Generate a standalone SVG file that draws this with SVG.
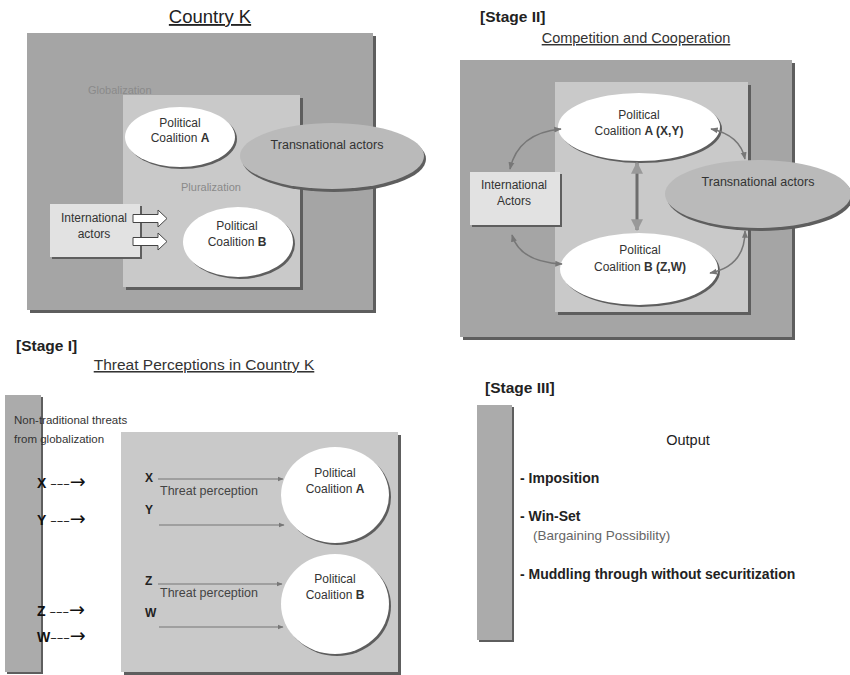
<svg xmlns="http://www.w3.org/2000/svg" width="850" height="675" viewBox="0 0 850 675">
<defs>
<style>
text{font-family:"Liberation Sans",Arial,sans-serif;fill:#333}
.t12{font-size:12px}
.c{text-anchor:middle}
.faint{fill:#8a8a8a;font-size:11px}
.stage{font-size:15.5px;font-weight:bold;fill:#222}
.ttl{font-size:14px;fill:#333;text-decoration:underline}
.outer{fill:#a5a5a5}
.inner{fill:#c9c9c9}
.shadow{fill:#5e5e5e}
.light{fill:#e2e2e2}
.white{fill:#fff}
.trans{fill:#bababa}
.bar{fill:#ababab}
.conn{fill:none;stroke:#777;stroke-width:1.5}
.thin{fill:none;stroke:#777;stroke-width:1.2}
.bold{font-weight:bold}
.out{font-size:14px;font-weight:bold;fill:#222}
.xarr{font-size:14px;fill:#111}
.ar{font-family:"DejaVu Sans",sans-serif;font-size:13px}
.ah{font-family:"DejaVu Sans",sans-serif;font-size:19px}
</style>
<marker id="ah" viewBox="0 0 10 10" refX="9" refY="5" markerWidth="5" markerHeight="5" orient="auto-start-reverse">
<path d="M0,1 L10,5 L0,9 Z" fill="#777"/>
</marker>
<marker id="ah2" viewBox="0 0 10 10" refX="9" refY="5" markerWidth="4" markerHeight="4" orient="auto-start-reverse">
<path d="M0,0 L10,5 L0,10 Z" fill="#999"/>
</marker>
</defs>

<!-- Country K -->
<g id="countryK">
<text x="210" y="23" class="c" style="font-size:18.5px;text-decoration:underline;fill:#222">Country K</text>
<rect x="30" y="36" width="346" height="277" class="shadow"/>
<rect x="27" y="33" width="346" height="277" class="outer"/>
<text x="88" y="94" class="faint">Globalization</text>
<rect x="126" y="98" width="177" height="192" class="shadow"/>
<rect x="123" y="95" width="177" height="192" class="inner"/>
<text x="181" y="191" class="faint">Pluralization</text>
</g>
<g id="k-coalitionA">
<ellipse cx="182" cy="139" rx="55" ry="30" class="shadow"/>
<ellipse cx="180" cy="137" rx="55" ry="30" class="white"/>
<text x="180" y="127" class="t12 c">Political</text>
<text x="180" y="142" class="t12 c">Coalition <tspan class="bold">A</tspan></text>
</g>
<g id="k-transnational">
<ellipse cx="334" cy="159" rx="92" ry="33" class="shadow"/>
<ellipse cx="332" cy="156" rx="92" ry="33" class="trans"/>
<text x="327" y="149" class="c" style="font-size:12.5px">Transnational actors</text>
</g>
<g id="k-coalitionB">
<ellipse cx="240" cy="244" rx="55" ry="35" class="shadow"/>
<ellipse cx="238" cy="242" rx="55" ry="35" class="white"/>
<text x="237" y="230" class="t12 c">Political</text>
<text x="237" y="246" class="t12 c">Coalition <tspan class="bold">B</tspan></text>
</g>
<g id="k-international">
<rect x="52" y="206" width="90" height="53" class="shadow"/>
<rect x="50" y="204" width="90" height="53" class="light"/>
<text x="94" y="222" class="t12 c">International</text>
<text x="94" y="238" class="t12 c">actors</text>
</g>
<g id="k-connectors">
<path d="M133,214.5 H158 V210 L167,218.5 L158,227 V222.5 H133 Z" fill="#fff" stroke="#444" stroke-width="1"/>
<path d="M133,237.5 H158 V233 L167,241.5 L158,250 V245.5 H133 Z" fill="#fff" stroke="#444" stroke-width="1"/>
</g>

<!-- Stage II -->
<g id="stage2">
<text x="480" y="22" class="stage">[Stage II]</text>
<text x="636" y="43" class="ttl c" style="font-size:14.5px">Competition and Cooperation</text>
<rect x="463" y="63" width="332" height="277" class="shadow"/>
<rect x="460" y="60" width="332" height="277" class="outer"/>
<rect x="558" y="85" width="193" height="230" class="shadow"/>
<rect x="555" y="82" width="193" height="230" class="inner"/>
</g>
<g id="s2-international">
<rect x="472" y="174" width="90" height="53" class="shadow"/>
<rect x="470" y="172" width="90" height="53" class="light"/>
<text x="514" y="189" class="t12 c">International</text>
<text x="514" y="205" class="t12 c">Actors</text>
</g>
<g id="s2-transnational">
<ellipse cx="760" cy="197" rx="93" ry="34" class="shadow"/>
<ellipse cx="758" cy="194" rx="93" ry="34" class="trans"/>
<text x="758" y="186" class="c" style="font-size:12.5px">Transnational actors</text>
</g>
<g id="s2-coalitionA">
<ellipse cx="641" cy="129" rx="81" ry="34" class="shadow"/>
<ellipse cx="639" cy="127" rx="81" ry="34" class="white"/>
<text x="639" y="119" class="t12 c">Political</text>
<text x="639" y="135" class="t12 c">Coalition <tspan class="bold">A (X,Y)</tspan></text>
</g>
<g id="s2-coalitionB">
<ellipse cx="641" cy="271" rx="79" ry="36" class="shadow"/>
<ellipse cx="639" cy="269" rx="79" ry="36" class="white"/>
<text x="640" y="254" class="t12 c">Political</text>
<text x="640" y="271" class="t12 c">Coalition <tspan class="bold">B (Z,W)</tspan></text>
</g>
<g id="s2-connectors">
<path d="M510,169 Q518,133 561,129" class="conn" marker-start="url(#ah)" marker-end="url(#ah)"/>
<path d="M512,235 Q520,262 562,264" class="conn" marker-start="url(#ah)" marker-end="url(#ah)"/>
<path d="M711,129 Q740,135 745,159" class="conn" marker-start="url(#ah)" marker-end="url(#ah)"/>
<path d="M745,231 Q745,266 710,273" class="conn" marker-start="url(#ah)" marker-end="url(#ah)"/>
<line x1="637" y1="163" x2="637" y2="230" stroke="#6d6d6d" stroke-width="3" marker-start="url(#ah2)" marker-end="url(#ah2)"/>
</g>

<!-- Stage I -->
<g id="stage1">
<text x="16" y="351" class="stage">[Stage I]</text>
<text x="204" y="370" class="ttl c" style="font-size:15.5px">Threat Perceptions in Country K</text>
<rect x="7" y="397" width="36" height="277" class="shadow"/>
<rect x="5" y="395" width="36" height="277" class="bar"/>
<text x="14" y="424" style="font-size:11.5px">Non-traditional threats</text>
<text x="14" y="443" style="font-size:11.5px">from globalization</text>
<text x="37" y="488" class="xarr"><tspan class="bold">X</tspan> <tspan class="ar">–––</tspan><tspan class="ah">→</tspan></text>
<text x="37" y="525" class="xarr"><tspan class="bold">Y</tspan> <tspan class="ar">–––</tspan><tspan class="ah">→</tspan></text>
<text x="37" y="616" class="xarr"><tspan class="bold">Z</tspan> <tspan class="ar">–––</tspan><tspan class="ah">→</tspan></text>
<text x="37" y="642" class="xarr"><tspan class="bold">W</tspan><tspan class="ar">–––</tspan><tspan class="ah">→</tspan></text>
<rect x="124" y="435" width="277" height="240" class="shadow"/>
<rect x="121" y="432" width="277" height="240" class="inner"/>
<text x="145" y="482" class="t12 bold" style="fill:#222">X</text>
<text x="145" y="514" class="t12 bold" style="fill:#222">Y</text>
<text x="145" y="585" class="t12 bold" style="fill:#222">Z</text>
<text x="145" y="617" class="t12 bold" style="fill:#222">W</text>
<text x="160" y="495" style="font-size:12.5px;fill:#444">Threat perception</text>
<text x="160" y="597" style="font-size:12.5px;fill:#444">Threat perception</text>
</g>
<g id="s1-coalitionA">
<ellipse cx="337" cy="497" rx="54" ry="48" class="shadow"/>
<ellipse cx="335" cy="495" rx="54" ry="48" class="white"/>
<text x="335" y="477" class="t12 c">Political</text>
<text x="335" y="493" class="t12 c">Coalition <tspan class="bold">A</tspan></text>
</g>
<g id="s1-coalitionB">
<ellipse cx="337" cy="606" rx="54" ry="50" class="shadow"/>
<ellipse cx="335" cy="604" rx="54" ry="50" class="white"/>
<text x="335" y="583" class="t12 c">Political</text>
<text x="335" y="599" class="t12 c">Coalition <tspan class="bold">B</tspan></text>
</g>
<g id="s1-connectors">
<line x1="158" y1="479" x2="283" y2="479" class="thin" marker-end="url(#ah)"/>
<line x1="159" y1="525" x2="284" y2="525" class="thin" marker-end="url(#ah)"/>
<line x1="158" y1="584" x2="282" y2="584" class="thin" marker-end="url(#ah)"/>
<line x1="159" y1="627" x2="283" y2="627" class="thin" marker-end="url(#ah)"/>
</g>

<!-- Stage III -->
<g id="stage3">
<text x="485" y="393" class="stage">[Stage III]</text>
<rect x="479" y="407" width="35" height="235" class="shadow"/>
<rect x="477" y="405" width="35" height="235" class="bar"/>
<text x="688" y="445" class="c" style="font-size:14.5px;fill:#222">Output</text>
<text x="520" y="483" class="out">- Imposition</text>
<text x="520" y="521" class="out">- Win-Set</text>
<text x="533" y="540" style="font-size:13.5px;fill:#666">(Bargaining Possibility)</text>
<text x="520" y="579" class="out">- Muddling through without securitization</text>
</g>
</svg>
